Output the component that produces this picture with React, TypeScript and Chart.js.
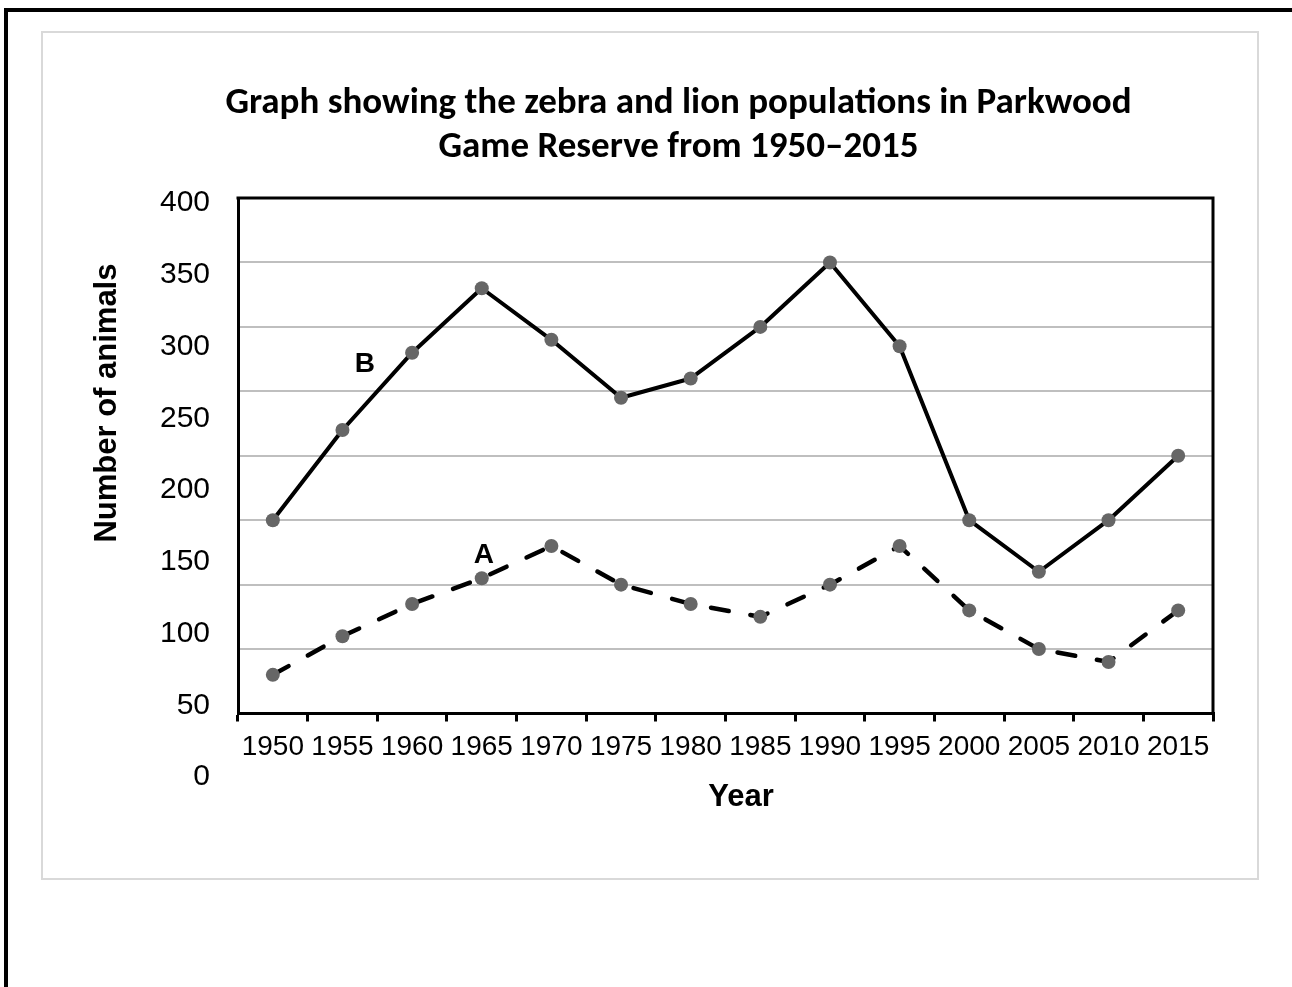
import React, { useEffect, useRef } from 'react';
import { Chart, registerables } from 'chart.js';

Chart.register(...registerables);

const years = ['1950', '1955', '1960', '1965', '1970', '1975', '1980', '1985', '1990', '1995', '2000', '2005', '2010', '2015'];
const seriesB = [150, 220, 280, 330, 290, 245, 260, 300, 350, 285, 150, 110, 150, 200];
const seriesA = [30, 60, 85, 105, 130, 100, 85, 75, 100, 130, 80, 50, 40, 80];
const yTickLabels = [400, 350, 300, 250, 200, 150, 100, 50, 0];
const titleLines = ['Graph showing the zebra and lion populations in Parkwood', 'Game Reserve from 1950–2015'];
const xAxisTitle = 'Year';
const yAxisTitle = 'Number of animals';
const seriesNames = ['B', 'A'];

const Y_MAX = 400;
const ARIAL = '"Liberation Sans", Arial, Helvetica, sans-serif';
const TITLE_FONT = 'Carlito, Calibri, Lato, sans-serif';

// label anchors (category index, value) for the series letters
const annotationAnchors = [
  { text: seriesNames[0], idx: 1.32, val: 271 },
  { text: seriesNames[1], idx: 3.03, val: 123 },
];

const decorPlugin = {
  id: 'decor',
  beforeDatasetsDraw(chart: any) {
    const { ctx, chartArea: ca } = chart;
    ctx.save();
    ctx.strokeStyle = '#000';
    ctx.lineWidth = 3;
    ctx.lineJoin = 'miter';
    ctx.beginPath();
    ctx.moveTo(ca.left - 1.5, ca.top);
    ctx.lineTo(ca.right, ca.top);
    ctx.lineTo(ca.right, ca.bottom);
    ctx.stroke();
    ctx.restore();
  },
  afterDraw(chart: any) {
    const { ctx, chartArea: ca, scales } = chart;
    const y = scales.y;
    const x = scales.x;
    ctx.save();
    ctx.fillStyle = '#000';
    // y tick labels (spaced slightly wider than the gridlines, as in the source)
    ctx.font = `30px ${ARIAL}`;
    ctx.textAlign = 'right';
    ctx.textBaseline = 'middle';
    const top = y.getPixelForValue(Y_MAX);
    const unit = ((y.getPixelForValue(0) - top) / Y_MAX) * 1.1135;
    yTickLabels.forEach((v) => {
      ctx.fillText(String(v), ca.left - 28, top + 5 + (Y_MAX - v) * unit);
    });
    // y axis title
    ctx.save();
    ctx.font = `bold 31px ${ARIAL}`;
    ctx.textAlign = 'center';
    ctx.textBaseline = 'middle';
    ctx.translate(ca.left - 131, ca.top + 205);
    ctx.rotate(-Math.PI / 2);
    ctx.fillText(yAxisTitle, 0, 0);
    ctx.restore();
    // x axis title
    ctx.font = `bold 31px ${ARIAL}`;
    ctx.textAlign = 'center';
    ctx.textBaseline = 'middle';
    ctx.fillText(xAxisTitle, (ca.left + ca.right) / 2 + 15.5, ca.bottom + 84);
    // series letters
    ctx.font = `bold 28px ${ARIAL}`;
    annotationAnchors.forEach((a) => {
      ctx.fillText(a.text, x.getPixelForValue(a.idx), y.getPixelForValue(a.val));
    });
    ctx.restore();
  },
};

function ChartCanvas() {
  const ref = useRef<HTMLCanvasElement | null>(null);
  useEffect(() => {
    if (!ref.current) return;
    const chart = new Chart(ref.current, {
      type: 'line',
      data: {
        labels: years,
        datasets: [
          {
            label: seriesNames[0],
            data: seriesB,
            borderColor: '#000',
            borderWidth: 4,
            tension: 0,
            pointRadius: 7,
            pointBackgroundColor: '#666666',
            pointBorderWidth: 0,
            borderCapStyle: 'round',
            borderJoinStyle: 'round',
          },
          {
            label: seriesNames[1],
            data: seriesA,
            borderColor: '#000',
            borderWidth: 4.5,
            borderDash: [18, 22],
            borderCapStyle: 'round',
            tension: 0,
            pointRadius: 7,
            pointBackgroundColor: '#666666',
            pointBorderWidth: 0,
          },
        ],
      },
      options: {
        responsive: false,
        animation: false,
        layout: { padding: { left: 101, right: 44, top: 0, bottom: 0 } },
        plugins: {
          legend: { display: false },
          tooltip: { enabled: false },
          title: {
            display: true,
            text: titleLines,
            color: '#000',
            font: { family: TITLE_FONT, size: 37, weight: 'bold', lineHeight: 1.19 },
            padding: { top: 49, bottom: 28 },
          },
        },
        scales: {
          x: {
            type: 'category',
            offset: true,
            grid: {
              offset: true,
              drawOnChartArea: false,
              drawTicks: true,
              tickLength: 8,
              color: '#000',
              lineWidth: 3,
            },
            border: { display: true, color: '#000', width: 3 },
            ticks: {
              color: '#000',
              font: { family: ARIAL, size: 28 },
              padding: 9,
              maxRotation: 0,
              autoSkip: false,
            },
            afterFit: (s: any) => {
              s.height = 164.5;
            },
          },
          y: {
            min: 0,
            max: Y_MAX,
            grid: { color: '#bfbfbf', lineWidth: 2, drawTicks: false },
            border: { display: true, color: '#000', width: 3 },
            ticks: { display: false, stepSize: 50 },
            afterFit: (s: any) => {
              s.width = 94;
            },
          },
        },
      },
      plugins: [decorPlugin],
    } as any);
    return () => chart.destroy();
  }, []);
  return <canvas ref={ref} width={1214} height={845} style={{ width: 1214, height: 845, display: 'block' }} />;
}

export default function App() {
  return (
    <div style={{ position: 'fixed', left: 0, top: 0, width: 1292, height: 987, overflow: 'hidden', background: '#fff' }}>
      <div
        style={{
          position: 'absolute',
          left: 4,
          top: 8,
          width: 1292,
          height: 1010,
          border: '4px solid #000',
          boxSizing: 'border-box',
        }}
      />
      <div
        style={{
          position: 'absolute',
          left: 41,
          top: 31,
          width: 1218,
          height: 849,
          border: '2px solid #d9d9d9',
          boxSizing: 'border-box',
          background: '#fff',
        }}
      >
        <ChartCanvas />
      </div>
    </div>
  );
}
